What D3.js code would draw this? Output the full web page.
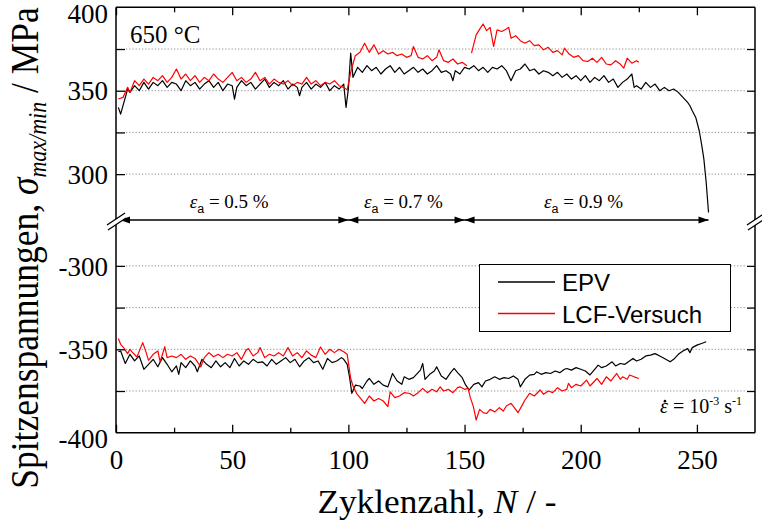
<!DOCTYPE html>
<html>
<head>
<meta charset="utf-8">
<script src="https://cdn.jsdelivr.net/npm/d3@7"></script>
<style>
  body { margin: 0; background: #fff; }
  svg { display: block; }
  .serif, .tick text { font-family: "Liberation Serif", "Times New Roman", serif; }
  .sans { font-family: "Liberation Sans", Arial, sans-serif; }
</style>
</head>
<body>
<svg id="chart" width="762" height="523"></svg>
<script>
// ---- data: peak stresses per cycle [cycle N, stress in MPa] ----
const xTickValues = [0, 50, 100, 150, 200, 250];
const xMinorTicks = [25, 75, 125, 175, 225];
const upperTickValues = [300, 350, 400];
const lowerTickValues = [-400, -350, -300];
const upperGrid = [300, 325, 350, 375];
const lowerGrid = [-375, -350, -325, -300];
const strainBlocks = [
  { from: 0, to: 100, amp: "0.5" },
  { from: 100, to: 150, amp: "0.7" },
  { from: 150, to: 255, amp: "0.9" }
];

// EPV, maximum stress
const epvMax = [
  [1,340],[2,336],[4,346],[5,351],[6,349],[8,353],[10,350],[12,355],[14,351],[16,355],
  [18,353],[20,356],[22,352],[24,355],[26,354],[28,350],[30,356],[32,353],[34,355],[36,351],
  [38,354],[40,356],[42,352],[44,355],[46,350],[48,354],[50,353],[51,345],[52,352],[54,356],
  [56,353],[58,355],[60,351],[62,354],[64,357],[66,352],[68,355],[70,353],[72,356],[74,351],
  [76,354],[78,352],[79,347],[80,352],[82,355],[84,351],[86,354],[88,352],[90,355],[92,350],
  [94,353],[96,351],[98,354],[99,340],[100,351],[101,372.5],[102,358],[104,364],[106,361],[108,365],
  [110,362],[112,364],[114,360],[116,363],[118,365],[120,361],[122,364],[124,360],[126,362],[128,364],
  [130,361],[132,363],[134,360],[136,362],[138,365],[140,361],[142,362],[144,360],[145,356],[146,362],
  [148,360],[150,364],[152,363],[154,365],[156,362],[158,364],[160,361],[162,364],[164,363],[166,365],
  [168,362],[170,356],[172,362],[174,363],[176,366],[178,362],[180,363],[182,360],[184,362],[186,361],
  [188,359],[190,361],[192,358],[194,360],[196,357],[198,359],[200,356],[202,359],[204,355],[206,358],
  [208,356],[210,359],[212,355],[214,357],[216,352],[218,355],[220,357],[222,360],[223,352],[224,353],
  [226,351],[228,355],[230,352],[232,354],[234,350],[236,352],[238,350],[240,351],[242,349],[244,346],
  [246,343],[247,341],[248,338],[249.5,334],[251,326],[252,318],[253,309],[254,295],[255,277]
];

// LCF test, maximum stress (the 0.9 % block starts as a separate run)
const lcfMax = [
  [1,345],[3,346],[5,352],[6,349],[8,356],[10,353],[12,357],[14,354],[16,358],[18,356],
  [20,359],[22,355],[24,358],[26,363],[28,357],[30,360],[32,356],[34,359],[36,355],[38,358],
  [40,356],[42,360],[44,357],[46,355],[48,358],[50,361],[52,356],[54,358],[56,355],[58,357],
  [60,361],[62,356],[64,358],[66,354],[68,357],[70,355],[72,354],[74,356],[76,353],[78,355],
  [80,354],[82,358],[84,354],[86,356],[88,353],[90,355],[92,354],[94,356],[96,353],[98,352],
  [99.5,350.5],[101,361],[103,371],[105,373],[107,378.5],[109,373],[111,377.5],[113,372],[115,374],[117,372],
  [119,373],[121,371],[123,372],[125,370],[127,371],[128,376.5],[130,370],[132,369],[134,371],[136,368],
  [138,370],[139,374.5],[141,368],[143,367],[145,369],[147,366],[149,367],[151,365],[152,null],
  [153,372.5],[155,383.5],[157,388],[158,390],[159.5,386],[161,388],[162.5,376.5],[164,386.5],[166,385.5],[168,387],
  [169,388],[170,381.5],[172,383],[174,380],[176,378.5],[178,380],[180,377],[182,377.5],[184,374.5],[186,376],
  [188,373],[190,374],[192,371.5],[193,375.5],[195,372],[197,370],[199,371],[201,368],[203,367.5],[205,369.5],
  [207,367],[209,370],[211,366],[213,365.5],[215,368],[217,366],[218.5,363.5],[220,369.5],[222,366.5],[224,368],
  [225,367]
];

// EPV, minimum stress
const epvMin = [
  [1,-351.5],[2,-351],[4,-358.5],[6,-353],[8,-357],[10,-354],[12,-362],[14,-359],[16,-356],[18,-360.5],
  [20,-355],[22,-359],[24,-363.5],[26,-360],[27,-365],[28,-358],[30,-361],[32,-357],[34,-360],[35,-363.5],
  [37,-356],[39,-359],[41,-361],[43,-357],[45,-360.5],[47,-358],[49,-361],[51,-355.5],[53,-360],[55,-357],
  [57,-359],[59,-356],[61,-358],[63,-357.5],[65,-360],[67,-356],[69,-359],[71,-357],[73,-355],[75,-358],
  [77,-356],[79,-360.5],[81,-357],[83,-355],[85,-358],[87,-357],[89,-362],[91,-355.5],[93,-358],[95,-357],
  [97,-355],[98,-356],[99.5,-359],[100.5,-366.5],[101.5,-376.4],[103,-371.5],[105,-372],[106,-373.5],[108,-369],[109,-367.5],
  [111,-371],[113,-369],[115,-371.5],[117,-372.5],[119,-364.5],[121,-369],[123,-371],[124,-366.5],[126,-368],[128,-367],
  [130,-364],[131,-362.5],[132,-358.5],[133,-368],[135,-365],[137,-363],[138,-360.5],[140,-366],[142,-368],[144,-364],
  [145.5,-361.5],[147,-364],[149,-367],[150.5,-371.5],[152,-374.4],[154,-371],[156,-370],[157.5,-372.5],[159,-369],[161,-368],
  [163,-366.5],[165,-368],[167,-367],[169,-367.5],[171,-366],[173,-368],[174,-372.5],[176,-368],[178,-365.5],[180,-365],
  [181,-363.5],[183,-365],[185,-364],[187,-364.5],[189,-363],[191,-364],[193,-362],[194,-361.5],[196,-362.5],[198,-361],
  [200,-362],[202,-363],[204,-365.4],[206,-362],[207.5,-359.5],[209,-361],[211,-360],[213.5,-357.5],[215,-360],[217,-358.5],
  [219,-359],[221,-357],[222.5,-355.5],[224,-357],[226,-356],[228,-354],[230,-353.5],[232,-352.6],[234,-354],[236,-355.5],
  [238.5,-357.5],[240,-356],[242,-353],[244,-351],[246,-349.6],[247,-352],[248,-349],[250,-347.5],[252,-346.5],[254,-345.5]
];

// LCF test, minimum stress
const lcfMin = [
  [1,-343.5],[2,-347],[3.5,-349.5],[5,-352.6],[6,-350],[7,-351.7],[9,-354.6],[11.5,-346],[13,-352],[14,-356.6],
  [16,-353],[18,-351],[19,-357.5],[21,-348.5],[22,-355],[24,-354],[26,-355],[28,-353],[30,-356],[32,-354],
  [34,-355.5],[36.5,-360.5],[38,-355],[40,-352],[42,-354.5],[44,-353],[46,-355],[48,-353],[50,-354],[52,-352],
  [54,-356],[56,-350.5],[57,-349.6],[59,-354],[61,-352],[62,-349],[64,-355],[66,-353],[68,-354],[70,-352],
  [72,-354],[74,-349],[76,-354],[78,-352],[80,-355],[82,-351],[84,-353.5],[86,-355],[88,-348.6],[90,-353],
  [92,-350],[94,-352],[96,-350],[98,-351.5],[99.5,-353],[101,-367.5],[102,-372],[103.5,-376.4],[105,-379],[107,-382.4],
  [109,-378],[111,-381],[113,-379.5],[115,-381],[117,-384.4],[118,-375.5],[120,-379],[122,-378],[124,-376],[126.5,-376.5],
  [128,-378],[130,-376],[132,-373.4],[134,-376],[136,-374],[138,-375.5],[139.5,-372.5],[141,-375],[143,-374],[145,-376],
  [147,-373],[148,-372.5],[150,-374],[151.5,-373.4],[152.5,-379],[153.8,-384.4],[155,-392.4],[156.5,-386],[158,-388],[159.5,-388.5],
  [161,-386],[163,-387.5],[165,-385],[166.7,-387],[168,-384],[170,-382.4],[172,-386],[173,-388],[175,-383],[176,-380.4],
  [178,-376.4],[180,-378],[182.5,-374.4],[184,-377],[186,-375],[188,-376],[190,-373],[192,-375],[194,-374],[194.7,-370.4],
  [196,-373],[198,-371],[200,-372],[202.5,-368.5],[204,-372],[206,-369],[207,-367.5],[209,-371],[211,-366.5],[213,-369],
  [215.5,-364.5],[217,-368],[218,-366.5],[220,-368],[221,-365.4],[223,-366.5],[225,-367.5]
];

// ---- layout ----
const svg = d3.select("#chart");
const plotLeft = 116, plotRight = 755, plotTop = 7.3, plotBottom = 432.7, breakY = 220;

const x = d3.scaleLinear().domain([0, 275]).range([plotLeft, plotRight]);
const yUp = d3.scaleLinear().domain([272.5, 400]).range([breakY, plotTop]);
const yLow = d3.scaleLinear().domain([-400, -272.5]).range([plotBottom, breakY]);

const serif = '"Liberation Serif", "Times New Roman", serif';
const sans = '"Liberation Sans", Arial, sans-serif';

// dotted horizontal grid
function grid(values, y) {
  svg.append("g").selectAll("line").data(values).join("line")
    .attr("x1", plotLeft + 10).attr("x2", plotRight - 9)
    .attr("y1", d => y(d)).attr("y2", d => y(d))
    .attr("stroke", "#8c8c8c").attr("stroke-width", 1)
    .attr("stroke-dasharray", "1.2,2");
}
grid(upperGrid, yUp);
grid(lowerGrid, yLow);

// series lines
const lineUp = d3.line().defined(d => d[1] != null).x(d => x(d[0])).y(d => yUp(d[1]));
const lineLow = d3.line().defined(d => d[1] != null).x(d => x(d[0])).y(d => yLow(d[1]));
const drawn = [
  { data: epvMax, gen: lineUp, color: "#000" },
  { data: epvMin, gen: lineLow, color: "#000" },
  { data: lcfMax, gen: lineUp, color: "#ff0000" },
  { data: lcfMin, gen: lineLow, color: "#ff0000" }
];
svg.append("g").selectAll("path").data(drawn).join("path")
  .attr("d", d => d.gen(d.data))
  .attr("fill", "none").attr("stroke", d => d.color)
  .attr("stroke-width", 1.2).attr("stroke-linejoin", "round");

// strain-amplitude arrows along the break line
const arrowG = svg.append("g");
arrowG.append("line")
  .attr("x1", x(0)).attr("x2", x(255)).attr("y1", breakY).attr("y2", breakY)
  .attr("stroke", "#000").attr("stroke-width", 1.3);
function head(tipX, dir) {
  const len = 10, hw = 3.6;
  arrowG.append("path")
    .attr("d", `M${tipX},${breakY}L${tipX - dir * len},${breakY - hw}L${tipX - dir * len},${breakY + hw}Z`)
    .attr("fill", "#000");
}
strainBlocks.forEach((b, i) => {
  head(i === 0 ? x(b.from) + 4 : x(b.from), -1);
  head(x(b.to), 1);
  const t = svg.append("text").attr("class", "serif")
    .attr("x", x((b.from + b.to) / 2) - 3).attr("y", 208)
    .attr("text-anchor", "middle").attr("font-size", 19);
  t.append("tspan").attr("font-style", "italic").text("ε");
  t.append("tspan").style("font-family", sans).attr("font-size", 12.5).attr("dy", 5).text("a");
  t.append("tspan").attr("dy", -5).text(" = " + b.amp + " %");
});

// frame
const frame = svg.append("g").attr("stroke", "#000").attr("stroke-width", 1.5);
frame.append("line").attr("x1", plotLeft).attr("x2", plotRight).attr("y1", plotTop).attr("y2", plotTop);
frame.append("line").attr("x1", plotLeft).attr("x2", plotRight).attr("y1", plotBottom).attr("y2", plotBottom);
frame.append("line").attr("x1", plotLeft).attr("x2", plotLeft).attr("y1", plotTop).attr("y2", plotBottom);
frame.append("line").attr("x1", plotRight).attr("x2", plotRight).attr("y1", plotTop).attr("y2", plotBottom);

// axes with inward ticks
const tickFont = 27;
const plainFormat = d => String(d);   // hyphen-minus, as in the printed figure
function styleAxis(g) {
  g.attr("font-family", null);
  g.select(".domain").remove();
  g.selectAll(".tick line").attr("stroke", "#000").attr("stroke-width", 1.3);
  g.selectAll(".tick text").style("font-family", serif).attr("font-size", tickFont).attr("fill", "#000");
}
svg.append("g").attr("transform", `translate(0,${plotBottom})`)
  .call(d3.axisBottom(x).tickValues(xTickValues).tickFormat(plainFormat)
    .tickSizeInner(-8).tickSizeOuter(0).tickPadding(17))
  .call(styleAxis);
svg.append("g").attr("transform", `translate(0,${plotBottom})`)
  .call(d3.axisBottom(x).tickValues(xMinorTicks).tickSizeInner(-5).tickSizeOuter(0).tickFormat(""))
  .call(styleAxis);
svg.append("g").attr("transform", `translate(0,${plotTop})`)
  .call(d3.axisTop(x).tickValues(xTickValues).tickSizeInner(-8).tickSizeOuter(0).tickFormat(""))
  .call(styleAxis);
svg.append("g").attr("transform", `translate(0,${plotTop})`)
  .call(d3.axisTop(x).tickValues(xMinorTicks).tickSizeInner(-5).tickSizeOuter(0).tickFormat(""))
  .call(styleAxis);

function yAxes(scale, labelled, all) {
  svg.append("g").attr("transform", `translate(${plotLeft},0)`)
    .call(d3.axisLeft(scale).tickValues(labelled).tickFormat(plainFormat)
      .tickSizeInner(0).tickSizeOuter(0).tickPadding(8))
    .call(styleAxis)
    .call(g => g.selectAll(".tick text").attr("dy", d => Math.abs(d) === 400 ? "0.55em" : "0.34em"));
  svg.append("g").attr("transform", `translate(${plotLeft},0)`)
    .call(d3.axisLeft(scale).tickValues(all).tickSizeInner(-9).tickSizeOuter(0).tickFormat(""))
    .call(styleAxis);
  svg.append("g").attr("transform", `translate(${plotRight},0)`)
    .call(d3.axisRight(scale).tickValues(all).tickSizeInner(-8).tickSizeOuter(0).tickFormat(""))
    .call(styleAxis);
}
yAxes(yUp, upperTickValues, upperGrid);
yAxes(yLow, lowerTickValues, lowerGrid);

// axis break marks
function breakMark(cx) {
  const g = svg.append("g");
  g.append("path")
    .attr("d", `M${cx - 8},${breakY + 5}L${cx + 10},${breakY - 7}L${cx + 11},${breakY - 2}L${cx - 7},${breakY + 10}Z`)
    .attr("fill", "#fff");
  [[0, 0], [1, 5]].forEach(([dx, dy]) => {
    g.append("line")
      .attr("x1", cx - 8 + dx).attr("y1", breakY + 5 + dy)
      .attr("x2", cx + 10 + dx).attr("y2", breakY - 7 + dy)
      .attr("stroke", "#000").attr("stroke-width", 1.3);
  });
}
breakMark(plotLeft - 1);
breakMark(plotRight);

// annotations
svg.append("text").attr("class", "serif").attr("x", 130).attr("y", 43)
  .attr("font-size", 25).text("650 °C");

const rate = svg.append("text").attr("class", "serif").attr("x", 660).attr("y", 413).attr("font-size", 20);
rate.append("tspan").attr("font-style", "italic").text("ε");
rate.append("tspan").text(" = 10");
rate.append("tspan").attr("font-size", 12).attr("dy", -8).text("-3");
rate.append("tspan").attr("dy", 8).text(" s");
rate.append("tspan").attr("font-size", 12).attr("dy", -8).text("-1");
// time-derivative dot over the epsilon
const eps = rate.node().getExtentOfChar(0);
svg.append("circle")
  .attr("cx", eps.x + eps.width / 2 + 1).attr("cy", eps.y + eps.height * 0.28)
  .attr("r", 1.3).attr("fill", "#000");

// legend
const legend = svg.append("g");
legend.append("rect").attr("x", 479.5).attr("y", 264.5).attr("width", 251).attr("height", 67)
  .attr("fill", "#fff").attr("stroke", "#000").attr("stroke-width", 1);
const legendItems = [
  { name: "EPV", color: "#000" },
  { name: "LCF-Versuch", color: "#ff0000" }
];
legendItems.forEach((d, i) => {
  const cy = 282 + i * 31.5;
  legend.append("line").attr("x1", 498).attr("x2", 555).attr("y1", cy).attr("y2", cy)
    .attr("stroke", d.color).attr("stroke-width", 1.3);
  legend.append("text").attr("x", 562).attr("y", cy + 9).style("font-family", sans)
    .attr("font-size", 24).attr("fill", "#000").text(d.name);
});

// axis titles
const xt = svg.append("text").attr("class", "serif").attr("font-size", 33)
  .attr("text-anchor", "middle").attr("transform", "translate(437,513) scale(1.07,1)");
xt.append("tspan").text("Zyklenzahl, ");
xt.append("tspan").attr("font-style", "italic").text("N");
xt.append("tspan").text(" / -");

const yt = svg.append("text").attr("class", "serif").attr("font-size", 35.5)
  .attr("text-anchor", "middle").attr("transform", "translate(38,248) rotate(-90) scale(1,1.15)");
yt.append("tspan").text("Spitzenspannungen, ");
yt.append("tspan").attr("font-style", "italic").text("σ");
yt.append("tspan").attr("font-style", "italic").attr("font-size", 22).attr("dy", 7).text("max/min");
yt.append("tspan").attr("dy", -7).text(" / MPa");
</script>
</body>
</html>
